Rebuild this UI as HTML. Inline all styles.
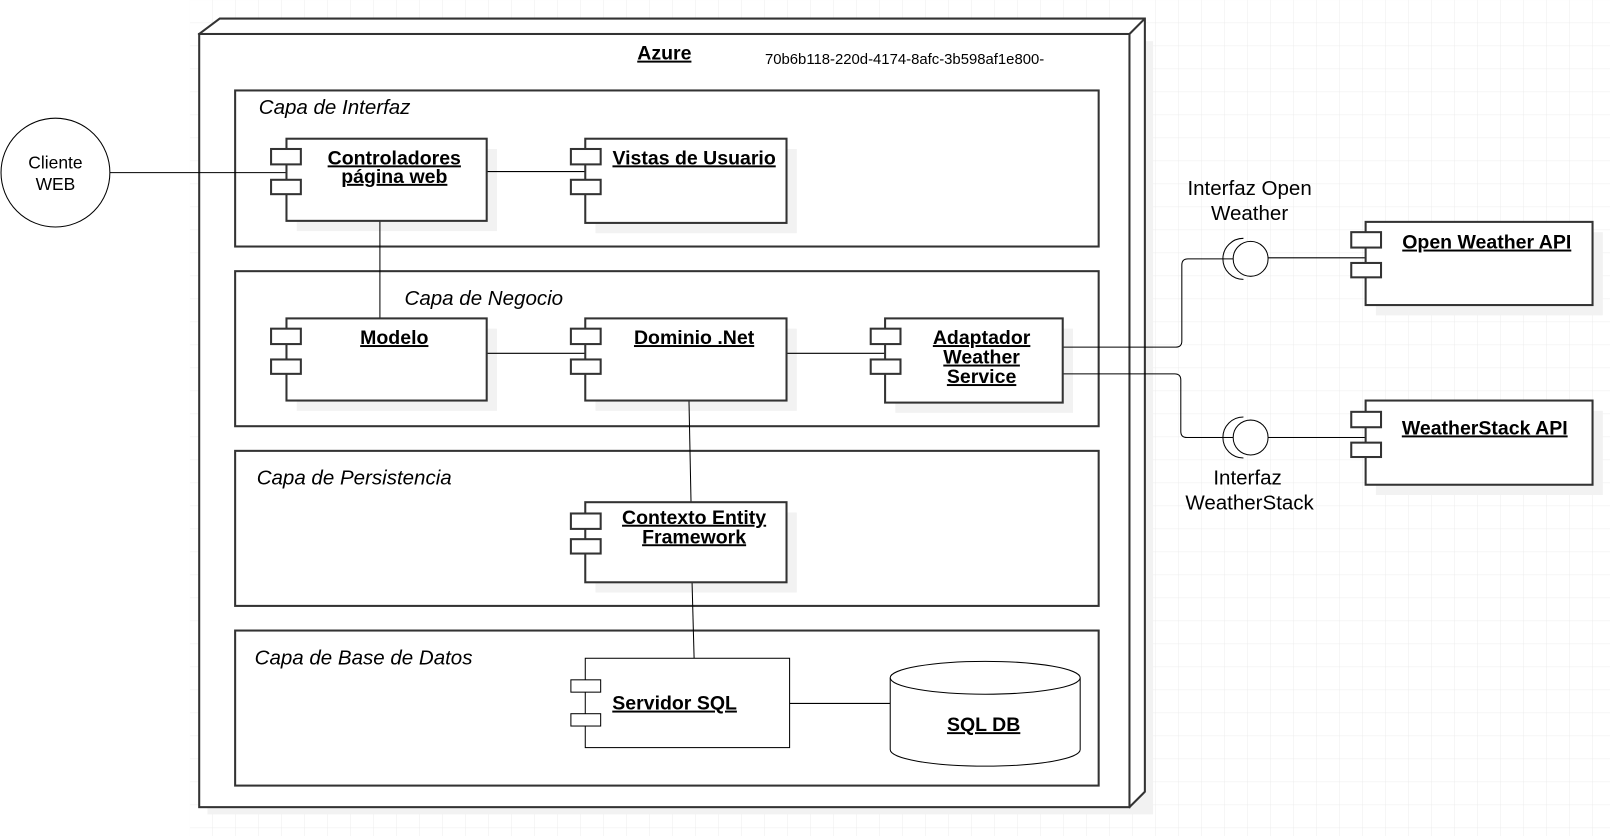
<!DOCTYPE html>
<html><head><meta charset="utf-8"><style>
html,body{margin:0;padding:0;background:#fff;}
svg{display:block;}
text{font-family:"Liberation Sans",Arial,sans-serif;fill:#000;}
.b{font-weight:bold;font-size:19px;text-decoration:underline;}
.i{font-style:italic;font-size:20px;}
</style></head><body>
<svg width="1610" height="836" viewBox="0 0 1568 814" xmlns="http://www.w3.org/2000/svg">
<defs>
<pattern id="g" x="185" y="0" width="22.4" height="22.4" patternUnits="userSpaceOnUse">
<path d="M22.4 0V22.4H0" fill="none" stroke="#ececec" stroke-width="1"/>
</pattern>
</defs>
<rect x="185" y="0" width="1383" height="814" fill="url(#g)"/>
<!-- node -->
<rect x="202" y="40" width="921" height="753" fill="#f2f2f2"/>
<path d="M194 33 L214 18 L1115 18 L1115 771 L1100 786 Z" fill="#fff" stroke="#333" stroke-width="2"/>
<rect x="194" y="33" width="906" height="753" fill="#fff" stroke="#333" stroke-width="2"/>
<line x1="1100" y1="33" x2="1115" y2="18" stroke="#333" stroke-width="2"/>
<text x="647" y="58" text-anchor="middle" class="b">Azure</text>
<text x="745" y="62" font-size="14.5">70b6b118-220d-4174-8afc-3b598af1e800-</text>
<!-- layers -->
<g fill="none" stroke="#333" stroke-width="2">
<rect x="229" y="88" width="841" height="152"/>
<rect x="229" y="264" width="841" height="151"/>
<rect x="229" y="439" width="841" height="151"/>
<rect x="229" y="614" width="841" height="151"/>
</g>
<text x="252" y="111" class="i">Capa de Interfaz</text>
<text x="394" y="297" class="i">Capa de Negocio</text>
<text x="250" y="472" class="i">Capa de Persistencia</text>
<text x="248" y="647" class="i">Capa de Base de Datos</text>
<!-- client -->
<circle cx="54" cy="168" r="53" fill="#fff" stroke="#000" stroke-width="1"/>
<text x="54" y="164" font-size="17" text-anchor="middle">Cliente</text>
<text x="54" y="185" font-size="17" text-anchor="middle">WEB</text>
<!-- components -->
<g fill="#f2f2f2">
<rect x="289" y="145" width="195" height="80"/>
<rect x="580" y="145" width="196" height="82"/>
<rect x="289" y="320" width="195" height="80"/>
<rect x="580" y="320" width="196" height="80"/>
<rect x="872" y="320" width="173" height="82"/>
<rect x="580" y="499" width="196" height="78"/>
<rect x="1340" y="226" width="221" height="81"/>
<rect x="1340" y="400" width="221" height="82"/>
</g>
<!-- connectors -->
<g stroke="#000" stroke-width="1" fill="none">
<line x1="107" y1="168" x2="279" y2="168"/>
<line x1="474" y1="167" x2="570" y2="167"/>
<line x1="370" y1="215" x2="370" y2="310"/>
<line x1="474" y1="344" x2="570" y2="344"/>
<line x1="766" y1="344" x2="862" y2="344"/>
<line x1="671" y1="390" x2="673" y2="489"/>
<line x1="674" y1="567" x2="676" y2="641"/>
<line x1="769" y1="685" x2="867" y2="685"/>
<path d="M1035 338 H1145 Q1151 338 1151 332 V258 Q1151 252 1157 252 H1201"/>
<path d="M1035 364 H1144 Q1150 364 1150 370 V420 Q1150 426 1156 426 H1201"/>
<line x1="1235" y1="251" x2="1330" y2="251"/>
<line x1="1235" y1="426" x2="1330" y2="426"/>
</g>
<g fill="#fff" stroke="#333" stroke-width="2">
<rect x="279" y="135" width="195" height="80"/>
<rect x="264" y="145" width="29" height="15"/><rect x="264" y="175" width="29" height="14"/>
<rect x="570" y="135" width="196" height="82"/>
<rect x="556" y="145" width="29" height="15"/><rect x="556" y="175" width="29" height="14"/>
<rect x="279" y="310" width="195" height="80"/>
<rect x="264" y="320" width="29" height="15"/><rect x="264" y="350" width="29" height="14"/>
<rect x="570" y="310" width="196" height="80"/>
<rect x="556" y="320" width="29" height="15"/><rect x="556" y="350" width="29" height="14"/>
<rect x="862" y="310" width="173" height="82"/>
<rect x="848" y="320" width="29" height="15"/><rect x="848" y="350" width="29" height="14"/>
<rect x="570" y="489" width="196" height="78"/>
<rect x="556" y="500" width="29" height="15"/><rect x="556" y="525" width="29" height="14"/>
<rect x="1330" y="216" width="221" height="81"/>
<rect x="1316" y="226" width="29" height="15"/><rect x="1316" y="256" width="29" height="14"/>
<rect x="1330" y="390" width="221" height="82"/>
<rect x="1316" y="401" width="29" height="15"/><rect x="1316" y="431" width="29" height="14"/>
</g>
<g fill="#fff" stroke="#000" stroke-width="1">
<rect x="570" y="641" width="199" height="87"/>
<rect x="556" y="662" width="29" height="12"/><rect x="556" y="695" width="29" height="12"/>
<path d="M867 660 V730 A92 16 0 0 0 1052 730 V660"/>
<ellipse cx="959.5" cy="660" rx="92.5" ry="16"/>
<circle cx="1218" cy="252" r="17"/>
<path d="M1211 232 A20 20 0 0 0 1211 272" fill="none"/>
<circle cx="1218" cy="426" r="17"/>
<path d="M1211 406 A20 20 0 0 0 1211 446" fill="none"/>
</g>
<text x="1217" y="190" font-size="20" text-anchor="middle">Interfaz Open</text>
<text x="1217" y="214" font-size="20" text-anchor="middle">Weather</text>
<text x="1215" y="472" font-size="20" text-anchor="middle">Interfaz</text>
<text x="1217" y="496" font-size="20" text-anchor="middle">WeatherStack</text>
<text x="384" y="160" class="b" text-anchor="middle">Controladores</text>
<text x="384" y="178" class="b" text-anchor="middle">página web</text>
<text x="676" y="160" class="b" text-anchor="middle">Vistas de Usuario</text>
<text x="384" y="335" class="b" text-anchor="middle">Modelo</text>
<text x="676" y="335" class="b" text-anchor="middle">Dominio .Net</text>
<text x="956" y="335" class="b" text-anchor="middle">Adaptador</text>
<text x="956" y="354" class="b" text-anchor="middle">Weather</text>
<text x="956" y="373" class="b" text-anchor="middle">Service</text>
<text x="676" y="510" class="b" text-anchor="middle">Contexto Entity</text>
<text x="676" y="529" class="b" text-anchor="middle">Framework</text>
<text x="657" y="691" class="b" text-anchor="middle">Servidor SQL</text>
<text x="958" y="712" class="b" text-anchor="middle">SQL DB</text>
<text x="1448" y="242" class="b" text-anchor="middle">Open Weather API</text>
<text x="1446" y="423" class="b" text-anchor="middle">WeatherStack API</text>
</svg>
</body></html>
